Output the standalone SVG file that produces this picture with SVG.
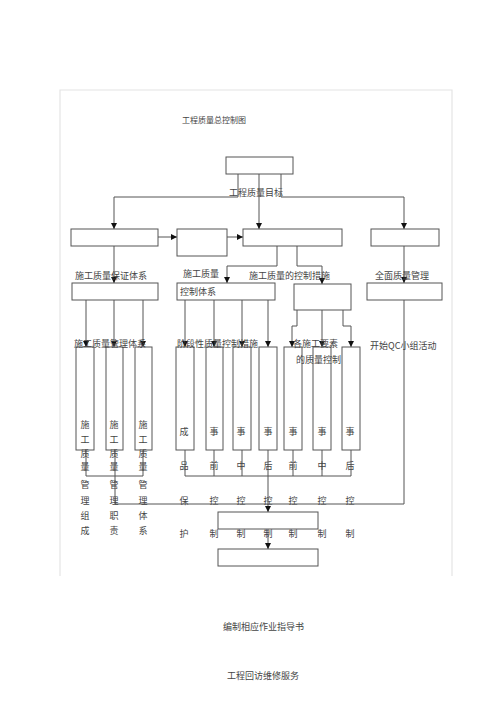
<svg xmlns="http://www.w3.org/2000/svg" width="500" height="708" viewBox="0 0 500 708">
<defs>
<marker id="ah" markerUnits="userSpaceOnUse" markerWidth="7" markerHeight="7" refX="6" refY="3" orient="auto">
<path d="M0,0 L6,3 L0,6 Z" fill="#111"/>
</marker>
<style>
.frame{fill:none;stroke:#e4e4e4;stroke-width:1.2}
.box{fill:#fff;stroke:#555;stroke-width:1}
.c{fill:none;stroke:#555;stroke-width:1}
.a{marker-end:url(#ah)}
text{font-family:"Noto Sans CJK SC","Liberation Serif",serif;font-size:9px;fill:#444}
.t8{font-size:8px}
.v{text-anchor:middle}
</style>
</defs>
<rect width="500" height="708" fill="#fff"/>
<path class="frame" d="M60,576 V90 H452 V576"/>
<text class="t8" x="182" y="123">工程质量总控制图</text>

<g id="connectors">
<path class="c a" d="M238,174 V197 H114 V229"/>
<path class="c a" d="M281,174 V197 H404 V229"/>
<path class="c a" d="M259,174 V229"/>
<path class="c a" d="M158,237 H177"/>
<path class="c a" d="M227,237 H243"/>
<path class="c a" d="M114,246 V283"/>
<path class="c a" d="M277,246 V266 H227 V283"/>
<path class="c a" d="M297,246 V266 H322 V284"/>
<path class="c a" d="M404,246 V283"/>
<path class="c a" d="M86,300 V347"/>
<path class="c a" d="M114,300 V347"/>
<path class="c a" d="M143,300 V347"/>
<path class="c a" d="M185,300 V347"/>
<path class="c a" d="M214,300 V347"/>
<path class="c a" d="M242,300 V347"/>
<path class="c a" d="M268,300 V347"/>
<path class="c a" d="M297,310 V326 H292 V347"/>
<path class="c a" d="M322,310 V347"/>
<path class="c a" d="M343,310 V326 H351 V347"/>
<path class="c" d="M404,300 V504 H115"/>
<path class="c" d="M115,450 V504"/>
<path class="c" d="M86,450 V476 H143 V450"/>
<path class="c" d="M185,450 V476 H351 V450 M214,450 V476 M242,450 V476 M293,450 V476 M322,450 V476"/>
<path class="c a" d="M268,450 V512"/>
<path class="c a" d="M268,529 V549"/>
</g>

<g id="n-goal"><rect class="box" x="226" y="157" width="67" height="17"/><text x="229" y="196">工程质量目标</text></g>
<g id="n-r2a"><rect class="box" x="71" y="229" width="87" height="17"/></g>
<g id="n-r2b"><rect class="box" x="177" y="229" width="50" height="27"/></g>
<g id="n-r2c"><rect class="box" x="243" y="229" width="99" height="17"/></g>
<g id="n-r2d"><rect class="box" x="371" y="229" width="68" height="17"/></g>

<g id="n-guarantee"><rect class="box" x="72" y="283" width="86" height="17"/><text x="75" y="279">施工质量保证体系</text></g>
<g id="n-control"><rect class="box" x="177" y="283" width="98" height="17"/><text x="183" y="277">施工质量</text><text x="180" y="295">控制体系</text></g>
<g id="n-measures"><rect class="box" x="294" y="284" width="57" height="26"/><text x="249" y="279">施工质量的控制措施</text></g>
<g id="n-tqm"><rect class="box" x="367" y="283" width="75" height="17"/><text x="375" y="279">全面质量管理</text></g>

<g id="n-l1"><rect class="box" x="76" y="347" width="18" height="103"/></g>
<g id="n-l2"><rect class="box" x="106" y="347" width="17" height="103"/></g>
<g id="n-l3"><rect class="box" x="135" y="347" width="17" height="103"/></g>
<text x="74" y="347">施工质量管理体系</text>
<g class="v">
<text class="v" x="85" y="428">施</text><text class="v" x="85" y="443">工</text><text class="v" x="85" y="457">质</text><text class="v" x="85" y="470">量</text><text class="v" x="85" y="488">管</text><text class="v" x="85" y="504">理</text><text class="v" x="85" y="519">组</text><text class="v" x="85" y="534">成</text>
<text class="v" x="114" y="428">施</text><text class="v" x="114" y="443">工</text><text class="v" x="114" y="457">质</text><text class="v" x="114" y="470">量</text><text class="v" x="114" y="488">管</text><text class="v" x="114" y="504">理</text><text class="v" x="114" y="519">职</text><text class="v" x="114" y="534">责</text>
<text class="v" x="143" y="428">施</text><text class="v" x="143" y="443">工</text><text class="v" x="143" y="457">质</text><text class="v" x="143" y="470">量</text><text class="v" x="143" y="488">管</text><text class="v" x="143" y="504">理</text><text class="v" x="143" y="519">体</text><text class="v" x="143" y="534">系</text>
</g>

<g id="n-m1"><rect class="box" x="176" y="347" width="18" height="103"/></g>
<g id="n-m2"><rect class="box" x="206" y="347" width="17" height="103"/></g>
<g id="n-m3"><rect class="box" x="233" y="347" width="18" height="103"/></g>
<g id="n-m4"><rect class="box" x="259" y="347" width="18" height="103"/></g>
<g id="n-m5"><rect class="box" x="284" y="347" width="18" height="103"/></g>
<g id="n-m6"><rect class="box" x="313" y="347" width="18" height="103"/></g>
<g id="n-m7"><rect class="box" x="342" y="347" width="18" height="103"/></g>
<text x="177" y="347">阶段性质量控制措施</text>
<text x="293" y="347">各施工要素</text>
<text x="296" y="363">的质量控制</text>
<text x="370" y="349">开始QC小组活动</text>
<g>
<text class="v" x="184" y="435">成</text><text class="v" x="184" y="469">品</text><text class="v" x="184" y="504">保</text><text class="v" x="184" y="537">护</text>
<text class="v" x="214" y="435">事</text><text class="v" x="214" y="469">前</text><text class="v" x="214" y="504">控</text><text class="v" x="214" y="537">制</text>
<text class="v" x="241" y="435">事</text><text class="v" x="241" y="469">中</text><text class="v" x="241" y="504">控</text><text class="v" x="241" y="537">制</text>
<text class="v" x="268" y="435">事</text><text class="v" x="268" y="469">后</text><text class="v" x="268" y="504">控</text><text class="v" x="268" y="537">制</text>
<text class="v" x="293" y="435">事</text><text class="v" x="293" y="469">前</text><text class="v" x="293" y="504">控</text><text class="v" x="293" y="537">制</text>
<text class="v" x="322" y="435">事</text><text class="v" x="322" y="469">中</text><text class="v" x="322" y="504">控</text><text class="v" x="322" y="537">制</text>
<text class="v" x="350" y="435">事</text><text class="v" x="350" y="469">后</text><text class="v" x="350" y="504">控</text><text class="v" x="350" y="537">制</text>
</g>

<g id="n-guide"><rect class="box" x="218" y="512" width="100" height="17"/><text x="223" y="630">编制相应作业指导书</text></g>
<g id="n-service"><rect class="box" x="218" y="549" width="100" height="17"/><text x="227" y="679">工程回访维修服务</text></g>
</svg>
